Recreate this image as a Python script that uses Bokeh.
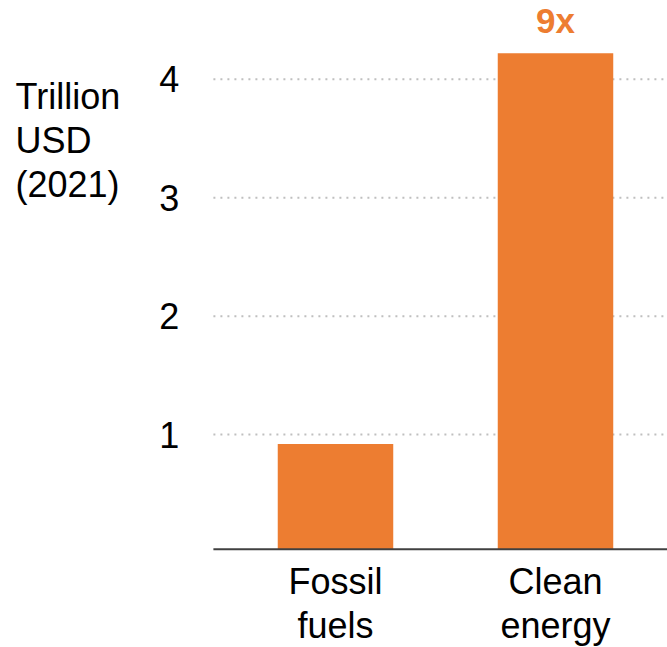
from bokeh.plotting import figure
from bokeh.models import Range1d, Label, ColumnDataSource
from bokeh.core.properties import value
from bokeh.embed import file_html
from bokeh.resources import INLINE

# ---- data ----
categories = ["Fossil\nfuels", "Clean\nenergy"]
investment = [0.92, 4.22]          # trillion USD (2021)
ratio_label = ["", "9x"]
y_ticks = [1, 2, 3, 4]
y_tick_labels = ["1", "2", "3", "4"]
y_title = "Trillion\nUSD\n(2021)"

ORANGE = "#ED7D31"
FONT = "Liberation Sans"

# layout extents: the frame spans the whole canvas; the chart area itself
# begins at PLOT_LEFT and its value axis at AXIS_MIN (baseline)
X_START, X_END = -1.5227, 1.5091
Y_START, Y_END = -0.799, 4.666
PLOT_LEFT = -0.555
AXIS_MIN = 0.03

xs = list(range(len(categories)))
src = ColumnDataSource(dict(x=xs, top=investment, lab=ratio_label,
                            cat=categories))

p = figure(width=667, height=647, output_backend="svg", toolbar_location=None,
           x_range=Range1d(X_START, X_END), y_range=Range1d(Y_START, Y_END),
           x_axis_location=None, y_axis_location=None,
           min_border_left=0, min_border_right=0, min_border_top=0,
           min_border_bottom=0)
p.outline_line_color = None
p.background_fill_color = "white"
p.border_fill_color = "white"
p.xgrid.grid_line_color = None
p.ygrid.grid_line_color = None

# dotted gridlines, only across the chart area
p.segment(x0=[PLOT_LEFT] * len(y_ticks), x1=[X_END] * len(y_ticks),
          y0=y_ticks, y1=y_ticks, line_color="#BFBFBF", line_width=2,
          line_dash="2 5")

# y tick labels
p.text(x=[PLOT_LEFT] * len(y_ticks), y=y_ticks, text=y_tick_labels,
       x_offset=-34, text_align="right", text_baseline="middle",
       text_font=value(FONT), text_font_size="36px", text_color="black")

# bars
p.vbar(x="x", top="top", bottom=AXIS_MIN, width=0.525, source=src,
       fill_color=ORANGE, line_color=None)

# baseline (category axis line)
p.segment(x0=[PLOT_LEFT], x1=[X_END], y0=[AXIS_MIN], y1=[AXIS_MIN],
          line_color="#404040", line_width=2)

# category labels
p.text(x="x", y=AXIS_MIN, text="cat", source=src, text_align="center",
       text_baseline="top", y_offset=12, text_line_height=1.06,
       text_font=value(FONT), text_font_size="36px", text_color="black")

# ratio annotation above the clean-energy bar
p.text(x="x", y="top", text="lab", source=src, text_align="center",
       text_baseline="bottom", y_offset=-13, text_color=ORANGE,
       text_font=value(FONT), text_font_size="35px", text_font_style="bold")

# axis title
p.add_layout(Label(x=15, y=4.03, x_units="screen", y_units="data",
                   text=y_title, text_font=FONT, text_font_size="36px",
                   text_color="black", text_baseline="top", text_align="left",
                   text_line_height=1.08))

open("out.html", "w").write(file_html(p, INLINE))
